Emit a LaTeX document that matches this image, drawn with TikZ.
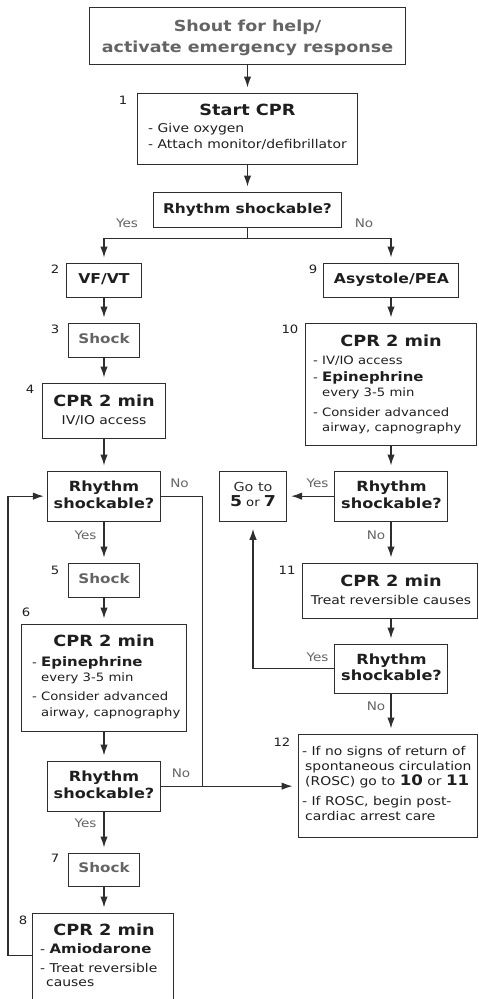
\documentclass[tikz,border=0pt]{standalone}
\usepackage{fontspec}
\setmainfont{DejaVu Sans}[FakeStretch=1.15]
\usetikzlibrary{arrows.meta}
\definecolor{ink}{HTML}{1E1E1E}
\definecolor{mute}{HTML}{646464}
\definecolor{rule}{HTML}{2E2E2E}
\newcommand\fs[1]{\fontsize{#1}{#1}\selectfont}
\begin{document}
\begin{tikzpicture}[x=1pt,y=-1pt,
  box/.style={draw=rule,line width=1.3pt,inner sep=0pt,anchor=north},
  boxnw/.style={box,anchor=north west},
  flow/.style={draw=rule,line width=1.3pt,-{Latex[length=11pt,width=7.5pt]},shorten >=5pt},
  link/.style={draw=rule,line width=1.3pt},
  ln/.style={inner sep=0pt,anchor=base,text=ink},
  lnw/.style={ln,anchor=base west},
  body/.style={font=\fs{12.1}},
  bodys/.style={font=\fs{11.5}},
  head/.style={font=\bfseries\fs{15.4}},
  quest/.style={font=\bfseries\fs{14}},
  shock/.style={text=mute,font=\bfseries\fs{13.2}},
  yn/.style={inner sep=0pt,text=mute,font=\fs{11.8}},
  num/.style={inner sep=0pt,text=ink,font=\fs{11.5}},
]
\useasboundingbox (0,0) rectangle (479,999);

% ---------- boxes ----------
\node[box,minimum width=316pt,minimum height=57pt] (shout) at (247.5,6.5) {};
\node[box,minimum width=220pt,minimum height=71pt] (start) at (247.5,92.5) {};
\node[box,minimum width=188pt,minimum height=35pt] (rs0) at (247.5,191.5) {};
\node[box,minimum width=75pt,minimum height=34pt] (vf) at (104,262.5) {};
\node[box,minimum width=135pt,minimum height=34pt] (asy) at (391,262.5) {};
\node[box,minimum width=71pt,minimum height=34pt] (shockA) at (104,322.5) {};
\node[box,minimum width=123pt,minimum height=55pt] (cprA) at (104,382.5) {};
\node[box,minimum width=171pt,minimum height=122pt] (cprE) at (391,322.5) {};
\node[box,minimum width=113pt,minimum height=50pt] (rsB) at (104,470.5) {};
\node[box,minimum width=67pt,minimum height=50pt] (goto) at (253,470.5) {};
\node[box,minimum width=113pt,minimum height=50pt] (rsC) at (391,470.5) {};
\node[box,minimum width=71pt,minimum height=34pt] (shockB) at (104,562.5) {};
\node[boxnw,minimum width=175pt,minimum height=55pt] (cprF) at (301.5,562.5) {};
\node[box,minimum width=165pt,minimum height=107pt] (cprB) at (104,623.5) {};
\node[box,minimum width=113pt,minimum height=49pt] (rsD) at (391,643.5) {};
\node[boxnw,minimum width=179pt,minimum height=103pt] (rosc) at (297.5,733.5) {};
\node[box,minimum width=113pt,minimum height=50pt] (rsE) at (104,760.5) {};
\node[box,minimum width=71pt,minimum height=33pt] (shockC) at (104,852.5) {};
\node[box,minimum width=141pt,minimum height=100pt] (cprC) at (103,912.5) {};

% ---------- box texts ----------
\node[ln,text=mute,font=\bfseries\fs{15.2}] (shoutA) at (247.5,31) {Shout for help/};
\node[ln,text=mute,font=\bfseries\fs{15.2}] (shoutB) at (247.5,52) {activate emergency response};

\node[ln,head] (startH) at (247.5,115.3) {Start CPR};
\node[lnw,body] (startA) at (148,132.7) {- Give oxygen};
\node[lnw,body] (startB) at (148,148.7) {- Attach monitor/defibrillator};

\node[ln,font=\bfseries\fs{13.4}] (rs0T) at (247.5,213) {Rhythm shockable?};

\node[ln,font=\bfseries\fs{13.6}] (vfT) at (104,283.3) {VF/VT};
\node[ln,font=\bfseries\fs{13.6}] (asyT) at (391.5,283.3) {Asystole/PEA};

\node[ln,shock] (shockAT) at (104,343.3) {Shock};

\node[ln,head] (cprAH) at (104,406) {CPR 2 min};
\node[ln,body] (cprAT) at (104,424) {IV/IO access};

\node[ln,head] (cprEH) at (391,346) {CPR 2 min};
\node[lnw,bodys] (cprE1) at (313,364.5) {- IV/IO access};
\node[lnw,bodys] (cprE2) at (313,381.7) {- {\bfseries\fs{13}Epinephrine}};
\node[lnw,bodys] (cprE3) at (313,396.7) {\phantom{- }every 3-5 min};
\node[lnw,bodys] (cprE4) at (313,416.5) {- Consider advanced};
\node[lnw,bodys] (cprE5) at (313,431.7) {\phantom{- }airway, capnography};

\node[ln,quest] (rsB1) at (104,491.7) {Rhythm};
\node[ln,quest] (rsB2) at (104,508.3) {shockable?};

\node[ln,text=rule,font=\fs{12.5}] (goto1) at (253,491) {Go to};
\node[ln,font=\fs{11.5}] (goto2) at (253,506.7) {{\bfseries\fs{15}5} or {\bfseries\fs{15}7}};

\node[ln,quest] (rsC1) at (391.5,491.7) {Rhythm};
\node[ln,quest] (rsC2) at (391.5,508.3) {shockable?};

\node[ln,shock] (shockBT) at (104,583.3) {Shock};

\node[ln,head] (cprFH) at (391,586) {CPR 2 min};
\node[ln,body] (cprFT) at (391,604) {Treat reversible causes};

\node[ln,head] (cprBH) at (104,646.7) {CPR 2 min};
\node[lnw,bodys] (cprB1) at (32,666.7) {- {\bfseries\fs{13}Epinephrine}};
\node[lnw,bodys] (cprB2) at (32,681.5) {\phantom{- }every 3-5 min};
\node[lnw,bodys] (cprB3) at (32,700.5) {- Consider advanced};
\node[lnw,bodys] (cprB4) at (32,716.5) {\phantom{- }airway, capnography};

\node[ln,quest] (rsD1) at (391.5,664) {Rhythm};
\node[ln,quest] (rsD2) at (391.5,680.7) {shockable?};

\node[lnw,body] (rosc1) at (302,755) {- If no signs of return of};
\node[lnw,body] (rosc2) at (305,770) {spontaneous circulation};
\node[lnw,body] (rosc3) at (305,785.5) {(ROSC) go to {\bfseries\fs{14.5}10} or {\bfseries\fs{14.5}11}};
\node[lnw,body] (rosc4) at (302,805) {- If ROSC, begin post-};
\node[lnw,body] (rosc5) at (305,820) {cardiac arrest care};

\node[ln,quest] (rsE1) at (104,781.7) {Rhythm};
\node[ln,quest] (rsE2) at (104,798.3) {shockable?};

\node[ln,shock] (shockCT) at (104,872.7) {Shock};

\node[ln,head] (cprCH) at (104,935) {CPR 2 min};
\node[lnw,body] (cprC1) at (40,953) {- {\bfseries\fs{13}Amiodarone}};
\node[lnw,body] (cprC2) at (40,972.7) {- Treat reversible};
\node[lnw,body] (cprC3) at (46,986.7) {causes};

% ---------- step numbers ----------
\node[num] (n1) at (123,100) {1};
\node[num] (n2) at (55,269) {2};
\node[num] (n9) at (313,269) {9};
\node[num] (n3) at (55,329) {3};
\node[num] (n10) at (290,329) {10};
\node[num] (n4) at (30,389) {4};
\node[num] (n5) at (55,570) {5};
\node[num] (n11) at (287,570) {11};
\node[num] (n6) at (26,612) {6};
\node[num] (n12) at (282,742) {12};
\node[num] (n7) at (55,858) {7};
\node[num] (n8) at (23,920) {8};

% ---------- connectors ----------
\draw[flow] (shout.south) -- (start.north);
\draw[flow] (start.south) -- (rs0.north);
\draw[link] (rs0.south) -- ++(0,11) coordinate (split);
\draw[flow] (split) -| (vf.north);
\draw[flow] (split) -| (asy.north);

\draw[flow] (vf.south) -- (vf.south |- shockA.north);
\draw[flow] (shockA.south) -- (shockA.south |- cprA.north);
\draw[flow] (cprA.south) -- (cprA.south |- rsB.north);
\draw[flow] (rsB.south) -- (rsB.south |- shockB.north);
\draw[flow] (shockB.south) -- (shockB.south |- cprB.north);
\draw[flow] (cprB.south) -- (cprB.south |- rsE.north);
\draw[flow] (rsE.south) -- (rsE.south |- shockC.north);
\draw[flow] (shockC.south) -- (shockC.south |- cprC.north);
\draw[flow,shorten >=3pt] ([yshift=-43pt]cprC.north west) -- ++(-24,0) |- (rsB.west);
\draw[link] (rsB.east) -- ++(41.5,0) -- ++(0,290);
\draw[flow] (rsE.east) -- (rsE.east -| rosc.west);

\draw[flow] (asy.south) -- (asy.south |- cprE.north);
\draw[flow] (cprE.south) -- (cprE.south |- rsC.north);
\draw[flow,shorten >=4pt] (rsC.west) -- (goto.east);
\draw[flow] (rsC.south) -- (rsC.south |- cprF.north);
\draw[flow] (rsC.south |- cprF.south) -- (rsD.north);
\draw[flow,shorten >=7pt] (rsD.west) -| (goto.south);
\draw[flow] (rsD.south) -- (rsD.south |- rosc.north);

% ---------- branch labels ----------
\node[yn] (yes0) at (127,223) {Yes};
\node[yn] (no0) at (364,223) {No};
\node[yn] (noB) at (179.5,483) {No};
\node[yn] (yesB) at (85.5,535) {Yes};
\node[yn] (yesC) at (317.5,483) {Yes};
\node[yn] (noC) at (376,535) {No};
\node[yn] (yesD) at (317.5,657) {Yes};
\node[yn] (noD) at (376,706) {No};
\node[yn] (noE) at (181,773) {No};
\node[yn] (yesE) at (85.5,823) {Yes};
\end{tikzpicture}
\end{document}
